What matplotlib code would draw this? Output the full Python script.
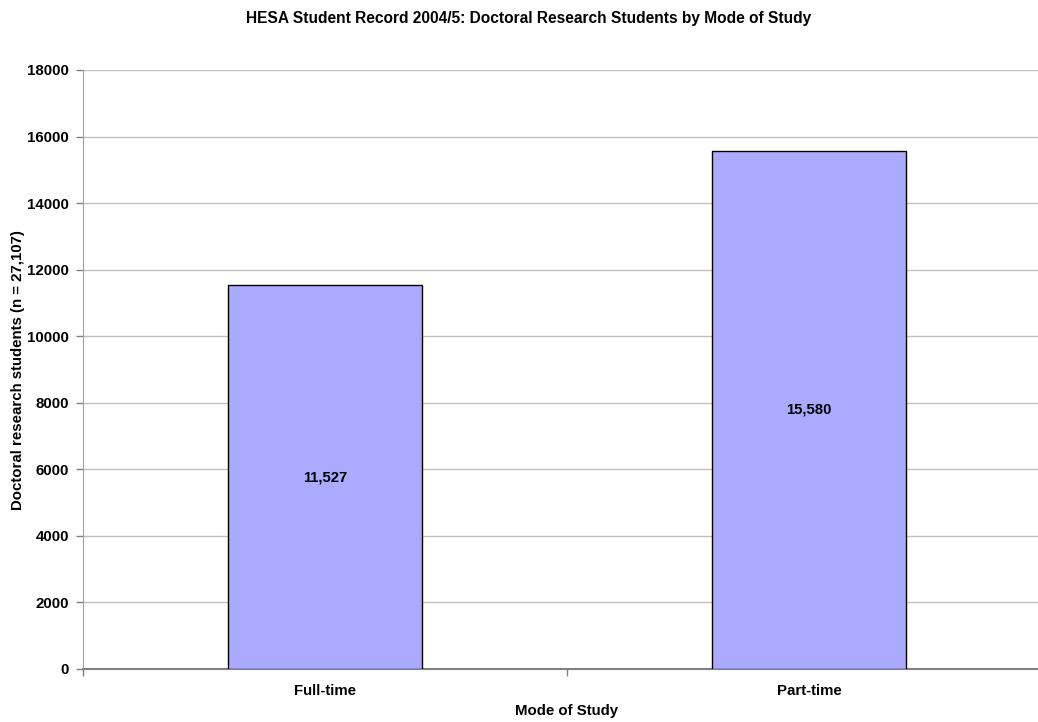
import matplotlib
matplotlib.use("Agg")
import matplotlib.pyplot as plt
from matplotlib.ticker import FixedLocator, NullFormatter

categories = ["Full-time", "Part-time"]
students = [11527, 15580]
y_ticks = [0, 2000, 4000, 6000, 8000, 10000, 12000, 14000, 16000, 18000]

plt.rcParams["font.family"] = ["Liberation Sans", "DejaVu Sans"]
plt.rcParams["font.weight"] = "bold"

W, H = 1038, 722
fig = plt.figure(figsize=(W / 100, H / 100), dpi=100)
ax = fig.add_axes([83 / W, 1 - 669 / H, 968 / W, 599 / H])

x = list(range(len(categories)))
ax.bar(x, students, width=0.40, color="#aaaaff", edgecolor="black",
       linewidth=1.0, zorder=3)

for xi, v in zip(x, students):
    ax.text(xi, v / 2, f"{v:,}", ha="center", va="center",
            fontsize=10.7, fontweight="bold", zorder=4)

ax.set_xlim(-0.5, 1.5)
ax.set_ylim(0, 18000)
ax.set_yticks(y_ticks)
ax.set_yticklabels([str(t) for t in y_ticks], fontsize=10.8, fontweight="bold")
ax.yaxis.grid(True, color="#c0c0c0", linewidth=1.0, zorder=0)

# category labels centred, tick marks on category boundaries
ax.set_xticks(x)
ax.set_xticklabels(categories, fontsize=10.8, fontweight="bold")
ax.tick_params(axis="x", which="major", length=0, pad=11)
ax.xaxis.set_minor_locator(FixedLocator([-0.5, 0.5, 1.5]))
ax.xaxis.set_minor_formatter(NullFormatter())
ax.tick_params(axis="x", which="minor", length=5, color="#808080", width=1)
ax.tick_params(axis="y", length=5, color="#808080", width=1, pad=5)

for side in ("top", "right"):
    ax.spines[side].set_visible(False)
ax.spines["left"].set_color("#a0a0a0")
ax.spines["bottom"].set_color("#808080")
ax.spines["bottom"].set_linewidth(1.5)
ax.set_axisbelow(True)

fig.text(18 / W, 1 - 370 / H, "Doctoral research students (n = 27,107)",
         rotation=90, ha="center", va="center", fontsize=10.8, fontweight="bold")
fig.text(567 / W, 1 - 711 / H, "Mode of Study",
         ha="center", va="center", fontsize=10.8, fontweight="bold")
fig.text(529 / W, 1 - 18 / H,
         "HESA Student Record 2004/5: Doctoral Research Students by Mode of Study",
         ha="center", va="center", fontsize=11.2, fontweight="bold")

fig.savefig("out.png", dpi=100, facecolor="white")
